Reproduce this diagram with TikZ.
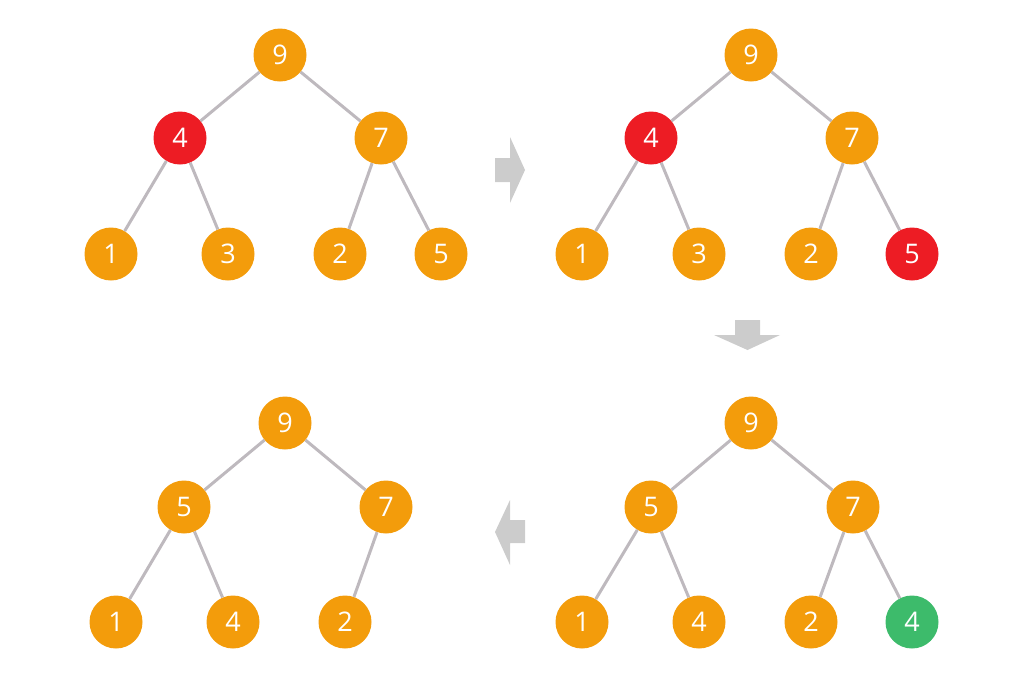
\documentclass[tikz,border=0pt]{standalone}
\usepackage{fontspec}
\setmainfont{Open Sans}
\definecolor{nodeorange}{HTML}{F39C0B}
\definecolor{nodered}{HTML}{ED1C24}
\definecolor{nodegreen}{HTML}{3DBB6B}
\definecolor{edgegray}{HTML}{BEB9BE}
\definecolor{arrowgray}{HTML}{CCCCCC}
\tikzset{
  nd/.style={circle, fill=nodeorange, draw=none, minimum size=53pt, inner sep=0pt, text=white, font=\fontsize{27}{27}\selectfont},
  rd/.style={nd, fill=nodered},
  gn/.style={nd, fill=nodegreen},
  ed/.style={draw=edgegray, line width=3pt},
  bigarrow/.style={fill=arrowgray, draw=none}
}
\begin{document}
\begin{tikzpicture}[x=1pt,y=-1pt]
\useasboundingbox (0,0) rectangle (1024,681);
% tree 1
\node[nd] (a9) at (280,55) {9};
\node[rd] (a4) at (180,138) {4};
\node[nd] (a7) at (381,138) {7};
\node[nd] (a1) at (111,254) {1};
\node[nd] (a3) at (228,254) {3};
\node[nd] (a2) at (340,254) {2};
\node[nd] (a5) at (441,254) {5};
\draw[ed] (a9) -- (a4); \draw[ed] (a9) -- (a7);
\draw[ed] (a4) -- (a1); \draw[ed] (a4) -- (a3);
\draw[ed] (a7) -- (a2); \draw[ed] (a7) -- (a5);
% tree 2
\node[nd] (b9) at (751,55) {9};
\node[rd] (b4) at (651,138) {4};
\node[nd] (b7) at (852,138) {7};
\node[nd] (b1) at (582,254) {1};
\node[nd] (b3) at (699,254) {3};
\node[nd] (b2) at (811,254) {2};
\node[rd] (b5) at (912,254) {5};
\draw[ed] (b9) -- (b4); \draw[ed] (b9) -- (b7);
\draw[ed] (b4) -- (b1); \draw[ed] (b4) -- (b3);
\draw[ed] (b7) -- (b2); \draw[ed] (b7) -- (b5);
% tree 3 (bottom right)
\node[nd] (c9) at (751,423) {9};
\node[nd] (c5) at (651,507) {5};
\node[nd] (c7) at (853,507) {7};
\node[nd] (c1) at (582,622) {1};
\node[nd] (c4) at (699,622) {4};
\node[nd] (c2) at (811,622) {2};
\node[gn] (c4g) at (912,622) {4};
\draw[ed] (c9) -- (c5); \draw[ed] (c9) -- (c7);
\draw[ed] (c5) -- (c1); \draw[ed] (c5) -- (c4);
\draw[ed] (c7) -- (c2); \draw[ed] (c7) -- (c4g);
% tree 4 (bottom left)
\node[nd] (d9) at (285,423) {9};
\node[nd] (d5) at (184,507) {5};
\node[nd] (d7) at (386,507) {7};
\node[nd] (d1) at (116,622) {1};
\node[nd] (d4) at (233,622) {4};
\node[nd] (d2) at (345,622) {2};
\draw[ed] (d9) -- (d5); \draw[ed] (d9) -- (d7);
\draw[ed] (d5) -- (d1); \draw[ed] (d5) -- (d4);
\draw[ed] (d7) -- (d2);
% arrows
\fill[bigarrow] (495,158) -- (510,158) -- (510,137) -- (525,170) -- (510,203) -- (510,182) -- (495,182) -- cycle;
\fill[bigarrow] (735,320) -- (760,320) -- (760,335) -- (780,335) -- (747.5,350) -- (714,335) -- (735,335) -- cycle;
\fill[bigarrow] (525,520) -- (510,520) -- (510,500) -- (495,532) -- (510,565) -- (510,543) -- (525,543) -- cycle;
\end{tikzpicture}
\end{document}
